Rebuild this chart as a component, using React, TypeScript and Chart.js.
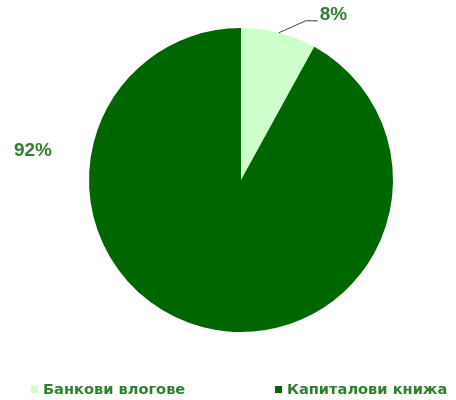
import React, { useEffect, useRef } from "react";
import { Chart, registerables } from "chart.js";

Chart.register(...registerables);

const categories = ["Банкови влогове", "Капиталови книжа"];
const values = [8, 92];
const valueLabels = ["8%", "92%"];
const colors = ["#ccffcc", "#006600"];
const textColor = "#2f7f2f";
const fontFamily = "'Liberation Sans', Arial, sans-serif";
const legendFont = "'DejaVu Sans', Verdana, sans-serif";

const overlayPlugin = {
  id: "overlay",
  afterDraw(chart: any) {
    const ctx = chart.ctx;
    const meta = chart.getDatasetMeta(0);
    const arcs = meta.data;
    ctx.save();
    ctx.font = `bold 19px ${fontFamily}`;
    ctx.fillStyle = textColor;
    ctx.textBaseline = "middle";
    {
      const a = arcs[0];
      const cx = a.x, cy = a.y, r = a.outerRadius;
      const mid = (a.startAngle + a.endAngle) / 2;
      const p1x = cx + Math.cos(mid) * r;
      const p1y = cy + Math.sin(mid) * r;
      const p2x = p1x + 27;
      const p2y = p1y - 12;
      const p3x = p2x + 12;
      ctx.strokeStyle = "#404040";
      ctx.lineWidth = 1;
      ctx.beginPath();
      ctx.moveTo(p1x, p1y);
      ctx.lineTo(p2x, p2y);
      ctx.lineTo(p3x, p2y);
      ctx.stroke();
      ctx.textAlign = "left";
      ctx.fillText(valueLabels[0], p3x + 2, p2y - 6);
    }
    {
      const a = arcs[1];
      const cx = a.x, cy = a.y, r = a.outerRadius;
      ctx.textAlign = "center";
      ctx.fillText(valueLabels[1], cx - r - 56, cy - 29);
    }
    ctx.font = `bold 14.6px ${legendFont}`;
    ctx.textAlign = "left";
    const ly = 390;
    const xs = [31, 275];
    for (let i = 0; i < categories.length; i++) {
      ctx.fillStyle = colors[i];
      ctx.fillRect(xs[i], ly - 4, 7, 7);
      ctx.fillStyle = textColor;
      ctx.fillText(categories[i], xs[i] + 12, ly);
    }
    ctx.restore();
  },
};

export default function App() {
  const ref = useRef<HTMLCanvasElement>(null);
  useEffect(() => {
    document.body.style.margin = "0";
    const chart = new Chart(ref.current!, {
      type: "pie",
      data: {
        labels: categories,
        datasets: [
          {
            data: values,
            backgroundColor: colors,
            borderWidth: 0,
          },
        ],
      },
      options: {
        responsive: false,
        animation: false,
        events: [],
        layout: { padding: { left: 89, right: 63, top: 28, bottom: 68 } },
        plugins: {
          legend: { display: false },
          tooltip: { enabled: false },
        },
      },
      plugins: [overlayPlugin],
    });
    return () => chart.destroy();
  }, []);
  return (
    <div style={{ position: "absolute", left: 0, top: 0, width: 456, height: 400, background: "#fff" }}>
      <canvas ref={ref} width={456} height={400} />
    </div>
  );
}
